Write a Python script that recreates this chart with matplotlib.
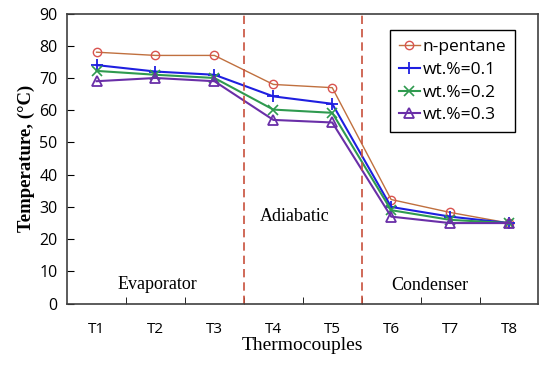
import numpy as np
import matplotlib.pyplot as plt

labels = ["T1", "T2", "T3", "T4", "T5", "T6", "T7", "T8"]
pentane = [78, 77, 77, 68, 67, 32.3, 28.3, 25]
wt01 = [74, 72, 71, 64.3, 62, 30, 27, 25]
wt02 = [72.2, 71, 70, 60.2, 59.2, 29, 26, 25]
wt03 = [69, 70, 69, 57, 56.2, 27, 25, 25]

x = np.arange(1, len(labels) + 1)

fig = plt.figure(figsize=(5.5, 3.65), dpi=100)
ax = fig.add_axes([0.122, 0.168, 0.857, 0.795])

ax.plot(x, pentane, color="#c0703f", lw=1.0, marker="o", ms=6, mfc="none",
        mec="#d9534f", mew=1.0, label="n-pentane")
ax.plot(x, wt01, color="#1f1fe0", lw=1.5, marker="+", ms=9, mew=1.3,
        label="wt.%=0.1")
ax.plot(x, wt02, color="#2f9a4f", lw=1.5, marker="x", ms=7, mew=1.2,
        label="wt.%=0.2")
ax.plot(x, wt03, color="#6a2fa8", lw=1.5, marker="^", ms=6.5, mfc="none",
        mew=1.3, label="wt.%=0.3")

for xv in (3.5, 5.5):
    ax.axvline(xv, color="#c8503c", ls=(0, (5, 3)), lw=1.2)

ax.set_xlim(0.5, 8.5)
ax.set_ylim(0, 90)
ax.set_yticks(range(0, 91, 10))
ax.set_xticks(x)
ax.set_xticklabels(labels)
ax.set_xticks(np.arange(1.5, 8.5, 1), minor=True)
ax.tick_params(axis="x", which="major", length=0, pad=13, labelsize=11)
ax.tick_params(axis="x", which="minor", direction="in", length=5)
ax.tick_params(axis="y", direction="in", length=5, labelsize=11.5, pad=7)
for lab in ax.get_xticklabels() + ax.get_yticklabels():
    lab.set_family("Open Sans")

for s in ax.spines.values():
    s.set_color("#404040")
    s.set_linewidth(1.2)

serif = "Liberation Serif"
ax.text(2.03, 4.6, "Evaporator", family=serif, fontsize=13, ha="center")
ax.text(4.37, 25.5, "Adiabatic", family=serif, fontsize=13, ha="center")
ax.text(6.65, 4.2, "Condenser", family=serif, fontsize=13, ha="center")

ax.set_xlabel("Thermocouples", family=serif, fontsize=14, labelpad=0)
ax.set_ylabel("Temperature, (°C)", family=serif, fontsize=13.5,
              fontweight="bold", labelpad=3)

leg = ax.legend(loc="upper right", bbox_to_anchor=(0.968, 0.972),
                prop={"family": "Open Sans", "size": 12.5}, fancybox=False,
                framealpha=1, edgecolor="black", handlelength=1.2,
                handletextpad=0.15, labelspacing=0.38, borderpad=0.5)
leg.get_frame().set_linewidth(1.0)

fig.savefig("out.png", dpi=100)
